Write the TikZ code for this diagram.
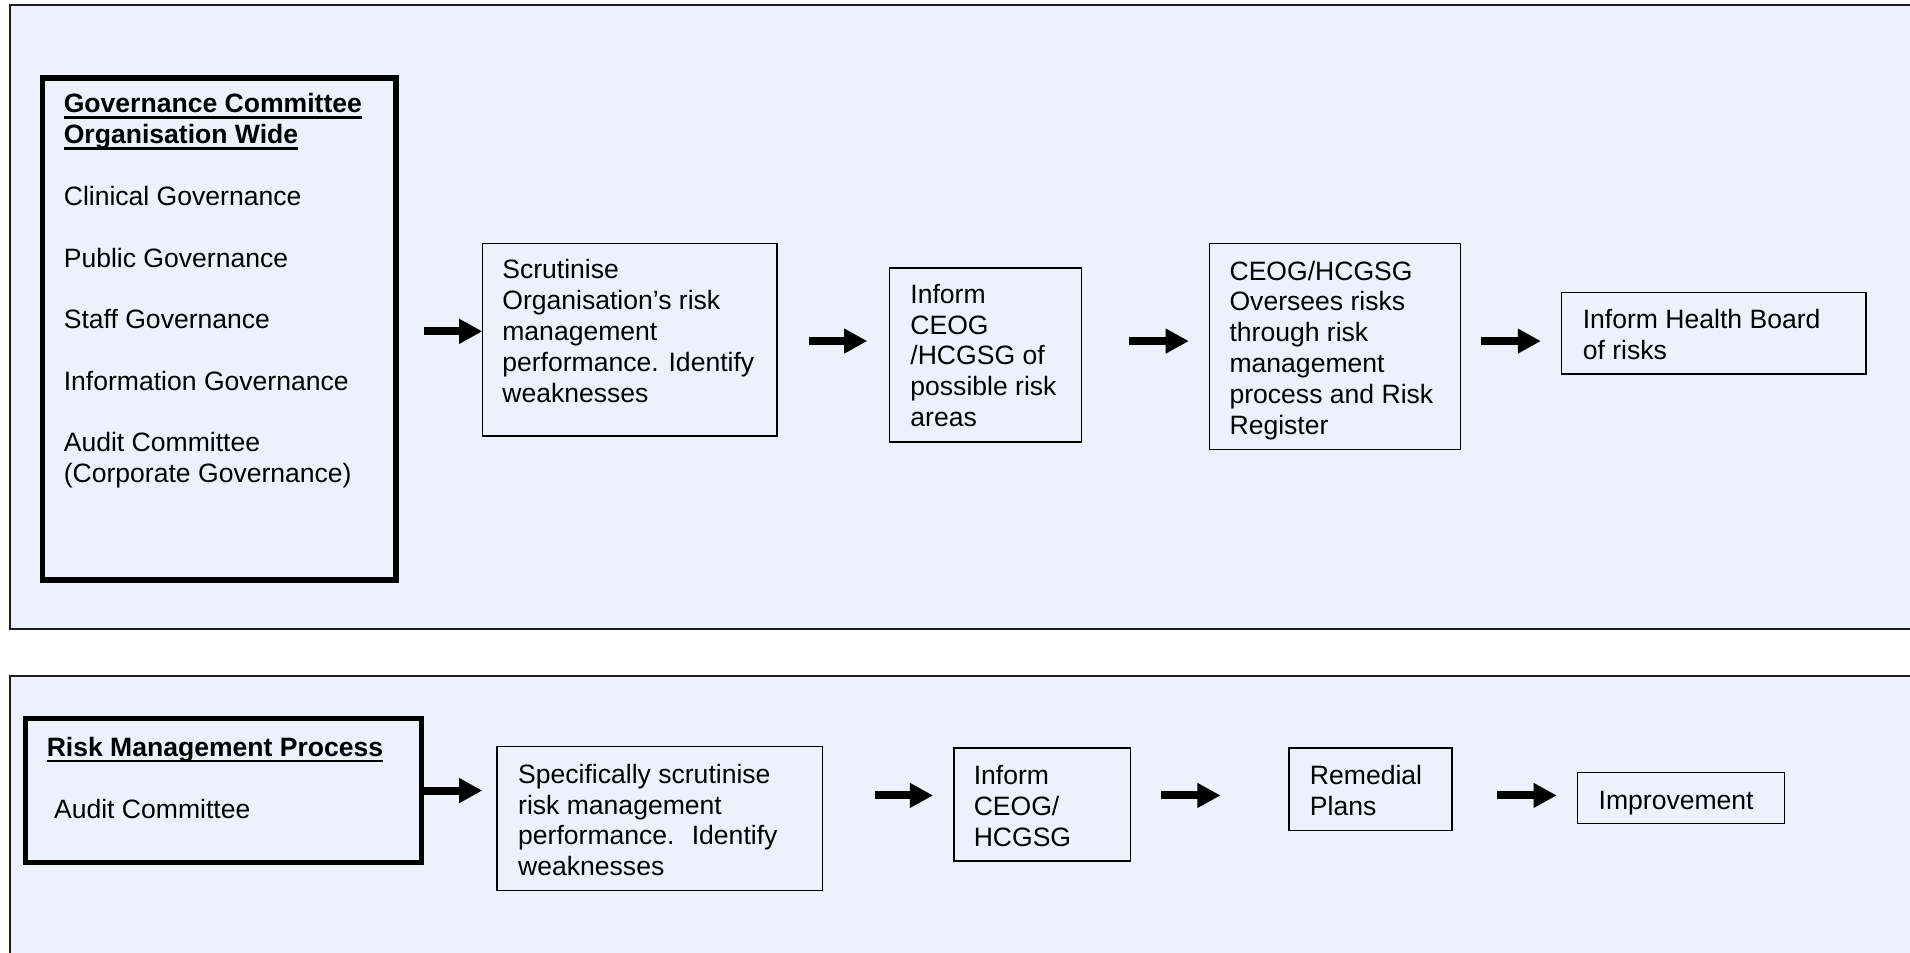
\documentclass[tikz,border=0pt]{standalone}
\usepackage{fontspec}
\setmainfont{Liberation Sans}
\usetikzlibrary{arrows.meta}
\definecolor{panelfill}{RGB}{238,240,252}
\definecolor{panelline}{RGB}{30,30,30}
\newcommand\diagfont{\fontsize{10.9pt}{12.65pt}\selectfont}
% heading underline at a fixed distance below the baseline
\newcommand\headline[1]{\setbox0\hbox{\textbf{#1}}\rlap{\rule[-2.4pt]{\wd0}{1.1pt}}\box0}
\tikzset{
  panelrule/.style={draw=panelline, line width=0.8pt},
  stagebox/.style={draw=black, line width=0.6pt, inner sep=0pt, outer sep=0pt, anchor=north west},
  headbox/.style={draw=black, line width=2.2pt, inner sep=0pt, outer sep=0pt, anchor=north west},
  label/.style={inner sep=0pt, anchor=north west, align=left, font=\diagfont,
    execute at begin node=\strut},
  flow/.style={line width=3.3pt, -{Triangle[length=9.5pt,width=9.6pt]}},
}
\begin{document}
\begin{tikzpicture}[x=0.5pt, y=-0.5pt]
  \useasboundingbox (0,0) rectangle (1568,782);

  % background panels (open on the right / bottom edge)
  \fill[panelfill] (8,4) rectangle (1568,516);
  \draw[panelrule] (1568,4) -- (8,4) -- (8,516) -- (1568,516);
  \fill[panelfill] (8,555) rectangle (1568,782);
  \draw[panelrule] (1568,555) -- (8,555) -- (8,782);

  % ---- upper flow: organisation-wide governance ----
  \node[headbox, minimum width=145pt, minimum height=206pt] (gov) at (35,64) {};
  \node[label] (govtext) at (52,76.5)
    {\headline{Governance Committee}\\
     \headline{Organisation Wide}\\[12.65pt]
     Clinical Governance\\[12.65pt]
     Public Governance\\[12.65pt]
     Staff Governance\\[12.65pt]
     Information Governance\\[12.65pt]
     Audit Committee\\
     (Corporate Governance)};

  \node[stagebox, minimum width=121pt, minimum height=79pt] (scrut) at (396,200) {};
  \node[label] (scruttext) at (412,212.8)
    {Scrutinise\\Organisation’s risk\\management\\performance. Identify\\weaknesses};

  \node[stagebox, minimum width=79pt, minimum height=71.5pt] (inform) at (730,220) {};
  \node[label] (informtext) at (747,232.8)
    {Inform\\CEOG\\/HCGSG of\\possible risk\\areas};

  \node[stagebox, minimum width=103pt, minimum height=84.5pt] (oversee) at (993,200) {};
  \node[label] (overseetext) at (1009,213.8)
    {CEOG/HCGSG\\Oversees risks\\through risk\\management\\process and Risk\\Register};

  \node[stagebox, minimum width=125pt, minimum height=33.5pt] (board) at (1282,240) {};
  \node[label] (boardtext) at (1299,253.8)
    {Inform Health Board\\of risks};

  \coordinate (a1s) at (348,272);
  \coordinate (a2s) at (664,280);  \coordinate (a2e) at (712,280);
  \coordinate (a3s) at (927,280);  \coordinate (a3e) at (976,280);
  \coordinate (a4s) at (1216,280); \coordinate (a4e) at (1265,280);
  \draw[flow] (a1s) -- (scrut.west |- a1s);
  \draw[flow] (a2s) -- (a2e);
  \draw[flow] (a3s) -- (a3e);
  \draw[flow] (a4s) -- (a4e);

  % ---- lower flow: risk management process ----
  \node[headbox, minimum width=162.5pt, minimum height=59pt] (rmp) at (21,590) {};
  \node[label] (rmptitle) at (38,602.8)
    {\headline{Risk Management Process}};
  \node[label] (rmptext) at (44,653.8) {Audit Committee};

  \node[stagebox, minimum width=133.5pt, minimum height=59pt] (spec) at (408,613) {};
  \node[label] (spectext) at (425,626.8)
    {Specifically scrutinise\\risk management\\performance.~ Identify\\weaknesses};

  \node[stagebox, minimum width=72.5pt, minimum height=46.5pt] (inform2) at (783,614) {};
  \node[label] (inform2text) at (799,627.8)
    {Inform\\CEOG/\\HCGSG};

  \node[stagebox, minimum width=67pt, minimum height=34pt] (remedial) at (1058,614) {};
  \node[label] (remedialtext) at (1075,627.8)
    {Remedial\\Plans};

  \node[stagebox, minimum width=85pt, minimum height=21pt] (improve) at (1295,634) {};
  \node[label] (improvetext) at (1312,646.8) {Improvement};

  \coordinate (b1) at (348,649);
  \coordinate (b1e) at (396,649);
  \coordinate (b2s) at (718,653);  \coordinate (b2e) at (766,653);
  \coordinate (b3s) at (953,653);  \coordinate (b3e) at (1002,653);
  \coordinate (b4s) at (1229,653); \coordinate (b4e) at (1278,653);
  \draw[flow] (rmp.east |- b1) -- (b1e);
  \draw[flow] (b2s) -- (b2e);
  \draw[flow] (b3s) -- (b3e);
  \draw[flow] (b4s) -- (b4e);
\end{tikzpicture}
\end{document}
